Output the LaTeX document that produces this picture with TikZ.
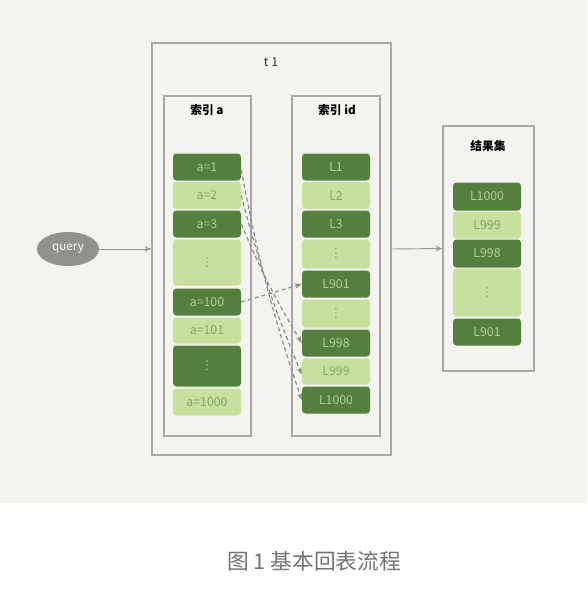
\documentclass[tikz,border=0pt]{standalone}
\usepackage{fontspec}
\setmainfont{Noto Sans CJK SC}
\newfontfamily\dotsfont{DejaVu Sans}
\usetikzlibrary{arrows.meta,shapes.geometric}
\definecolor{bgpaper}{RGB}{244,243,239}
\definecolor{boxgray}{RGB}{168,168,164}
\definecolor{darkleaf}{RGB}{84,127,63}
\definecolor{lightleaf}{RGB}{198,224,158}
\definecolor{textlight}{RGB}{176,210,144}
\definecolor{textdark}{RGB}{134,164,104}
\definecolor{querygray}{RGB}{145,145,140}
\definecolor{dashgray}{RGB}{140,140,136}
\def\pxu{0.03cm}
\def\vdotsmark{{\dotsfont ⋮}}

\begin{document}
\begin{tikzpicture}[x=0.03cm, y=-0.03cm,
		box/.style={draw=boxgray, line width=0.9pt, inner sep=0},
		cellD/.style={fill=darkleaf, text=textlight, rounded corners=3pt, minimum width=68*\pxu, minimum height=#1*\pxu, inner sep=0, font=\fontsize{10.5}{11}\selectfont},
		cellL/.style={fill=lightleaf, text=textdark, rounded corners=3pt, minimum width=68*\pxu, minimum height=#1*\pxu, inner sep=0, font=\fontsize{10.5}{11}\selectfont},
		boxtitle/.style={text=black, font=\fontsize{10}{12}\selectfont\bfseries},
		flow/.style={draw=boxgray!90!black, line width=0.8pt, -{Stealth[length=6pt,width=4.5pt]}},
		lookup/.style={draw=dashgray, line width=1pt, dash pattern=on 3.5pt off 2.5pt, -{Stealth[length=6pt,width=4.5pt]}}]
			%%%%% START %%%%%
			
			\useasboundingbox (0,0) rectangle (587,589);
			\fill[white] (0,0) rectangle (587,589);
			\fill[bgpaper] (0,0) rectangle (587,503);
			
			\node[box, minimum width=239*\pxu, minimum height=412*\pxu] (t1) at (271.5,249) {};
			\node[text=black!80, font=\fontsize{10.5}{12}\selectfont] (t1title) at (271,62) {t 1};
			
			\node[box, minimum width=87*\pxu, minimum height=340*\pxu] (idxa) at (207.5,266) {};
			\node[boxtitle] (idxatitle) at (207,110) {索引 a};
			
			\node[box, minimum width=88*\pxu, minimum height=340*\pxu] (idxid) at (336,266) {};
			\node[boxtitle] (idxidtitle) at (337,110) {索引 id};
			
			\node[box, minimum width=91*\pxu, minimum height=245*\pxu] (res) at (488.5,248.5) {};
			\node[boxtitle] (restitle) at (488,146) {结果集};
			
			% index a
			\node[cellD=27] (a1) at (207,167) {a=1};
			\node[cellL=27] (a2) at (207,195.5) {a=2};
			\node[cellD=27] (a3) at (207,224) {a=3};
			\node[cellL=46] (adots1) at (207,262.5) {\vdotsmark};
			\node[cellD=27] (a100) at (207,302) {a=100};
			\node[cellL=26] (a101) at (207,330.5) {a=101};
			\node[cellD=41] (adots2) at (207,366) {\vdotsmark};
			\node[cellL=27] (a1000) at (207,402) {a=1000};
			
			% index id
			\node[cellD=27] (L1) at (336,167) {L1};
			\node[cellL=27] (L2) at (336,195.5) {L2};
			\node[cellD=27] (L3) at (336,224) {L3};
			\node[cellL=29] (ldots1) at (336,254) {\vdotsmark};
			\node[cellD=27] (L901) at (336,284) {L901};
			\node[cellL=28] (ldots2) at (336,313.5) {\vdotsmark};
			\node[cellD=27] (L998) at (336,343) {L998};
			\node[cellL=26] (L999) at (336,371.5) {L999};
			\node[cellD=27] (L1000) at (336,400) {L1000};
			
			% result set
			\node[cellD=28] (r1000) at (487,196.5) {L1000};
			\node[cellL=27] (r999) at (487,225) {L999};
			\node[cellD=28] (r998) at (487,253.5) {L998};
			\node[cellL=48] (rdots) at (487,292.5) {\vdotsmark};
			\node[cellD=27] (r901) at (487,332) {L901};
			
			\node[ellipse, fill=querygray, text=white, minimum width=62*\pxu, minimum height=34*\pxu, inner sep=0, font=\fontsize{10}{11}\selectfont] (query) at (68,249) {query};
			
			\draw[flow] (query.east) -- (t1.west);
			\draw[flow] (t1.east) -- (res.west);
			
			\draw[lookup] ([yshift=-3*\pxu]a1.east) to[bend right=4] (L1000.west);
			\draw[lookup] (a2.east) to[bend right=4] ([yshift=-3*\pxu]L999.west);
			\draw[lookup] (a3.east) to[bend right=4] (L998.west);
			\draw[lookup] (a100.east) -- (L901.west);
			
			\node[text=black!55, font=\fontsize{18.5}{22}\selectfont] (caption) at (314,561) {图 1 基本回表流程};
			
			%%%%% END %%%%%
		\end{tikzpicture}
\end{document}
